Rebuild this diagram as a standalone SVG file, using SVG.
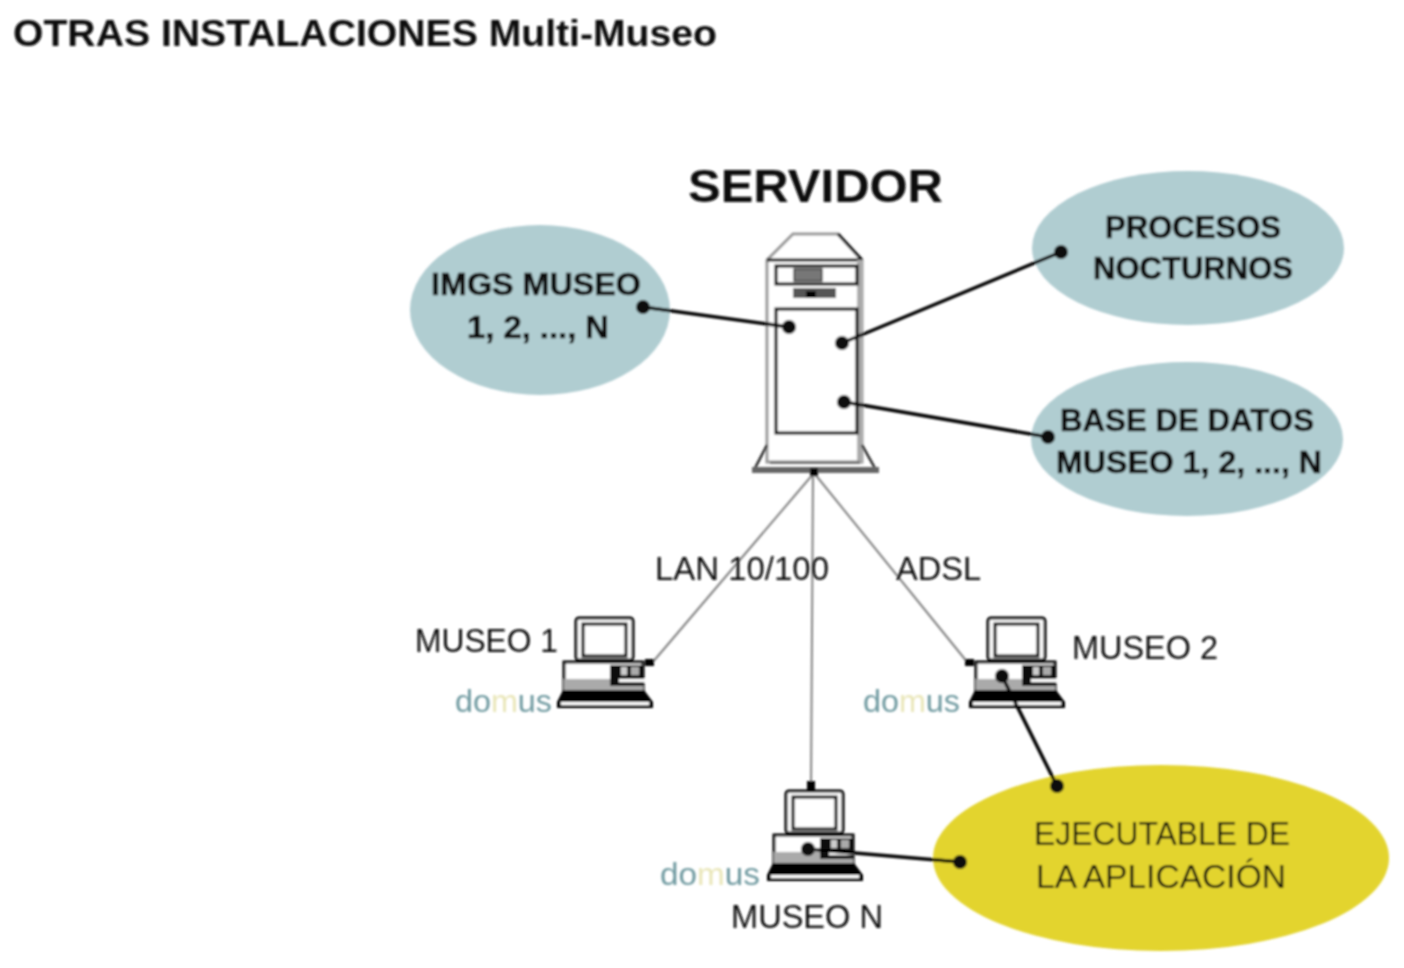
<svg xmlns="http://www.w3.org/2000/svg" xmlns:xlink="http://www.w3.org/1999/xlink" width="1404" height="968" viewBox="0 0 1404 968">
<style>
text{font-family:"Liberation Sans",Arial,sans-serif;fill:#111}
.b{font-weight:bold}
.l{font-size:33px;fill:#111}
.e{font-size:32px;font-weight:bold;fill:#111;stroke:#111;stroke-width:.6}
.teal{fill:#b0cdd1}
.yel{fill:#e3d42f}
.thin{stroke:#808080;stroke-width:2;fill:none}
.thick{stroke:#000;stroke-width:3.5;fill:none}
.dot{fill:#111}
text.dom{font-size:31px;fill:#6f9aa0}
text.dom tspan.m{fill:#e9e6b8}
</style>
<defs>
<filter id="soft" x="-2%" y="-2%" width="104%" height="104%"><feGaussianBlur stdDeviation="0.9"/></filter>
<g id="pc">
<rect x="1" y="1" width="57" height="42" rx="3" fill="#fff" stroke="#000" stroke-width="3"/>
<rect x="8" y="7" width="43" height="32" fill="#fff" stroke="#000" stroke-width="3"/>
<rect x="-11" y="45" width="79" height="28" fill="#fff" stroke="#000" stroke-width="3"/>
<rect x="-11" y="62" width="79" height="11" fill="#aaa"/>
<rect x="35" y="48" width="34" height="21" fill="#111"/>
<rect x="46" y="50" width="6" height="8" fill="#ccc"/>
<rect x="56" y="50" width="8" height="8" fill="#aaa"/>
<rect x="44" y="62" width="26" height="3" fill="#fff"/>
<path d="M-12 73H69L78 85V91H-18V85Z" fill="#000"/>
<rect x="-14" y="85" width="88" height="3" fill="#fff"/>
</g>
</defs>
<rect width="1404" height="968" fill="#fff"/>
<g filter="url(#soft)">
<text id="title" class="b" x="13" y="46" font-size="36" textLength="704" lengthAdjust="spacingAndGlyphs">OTRAS INSTALACIONES Multi-Museo</text>

<g id="node-imgs">
<ellipse class="teal" cx="540" cy="310" rx="130" ry="85"/>
<text class="e" x="431" y="295" textLength="210" lengthAdjust="spacingAndGlyphs">IMGS MUSEO</text>
<text class="e" x="467" y="338" textLength="142" lengthAdjust="spacingAndGlyphs">1, 2, ..., N</text>
</g>
<g id="node-procesos">
<ellipse class="teal" cx="1188" cy="248" rx="156" ry="77"/>
<text class="e" x="1105" y="238" textLength="176" lengthAdjust="spacingAndGlyphs">PROCESOS</text>
<text class="e" x="1093" y="279" textLength="200" lengthAdjust="spacingAndGlyphs">NOCTURNOS</text>
</g>
<g id="node-bd">
<ellipse class="teal" cx="1187" cy="439" rx="156" ry="77"/>
<text class="e" x="1060" y="431" textLength="254" lengthAdjust="spacingAndGlyphs">BASE DE DATOS</text>
<text class="e" x="1056" y="473" textLength="266" lengthAdjust="spacingAndGlyphs">MUSEO 1, 2, ..., N</text>
</g>
<g id="node-ejecutable">
<ellipse class="yel" cx="1161" cy="858" rx="228" ry="93"/>
<text class="l" x="1034" y="845" textLength="256" lengthAdjust="spacingAndGlyphs">EJECUTABLE  DE</text>
<text class="l" x="1036" y="888" textLength="250" lengthAdjust="spacingAndGlyphs">LA  APLICACIÓN</text>
</g>

<g id="node-servidor">
<text class="b" x="688" y="202" font-size="46" textLength="255" lengthAdjust="spacingAndGlyphs">SERVIDOR</text>
<path d="M767 260L793 234H838L862 260V462H767Z" fill="#fff" stroke="#999" stroke-width="3"/>
<path d="M838 234L862 260M767 260H862" stroke="#111" stroke-width="3" fill="none"/>
<rect x="857" y="260" width="6" height="202" fill="#aaa"/>
<rect x="776" y="266" width="81" height="18" fill="#fff" stroke="#000" stroke-width="3"/>
<rect x="794" y="269" width="28" height="12" fill="#777" stroke="#000"/>
<rect x="793" y="288" width="43" height="10" fill="#555"/>
<rect x="806" y="291" width="10" height="7" fill="#000"/>
<rect x="776" y="309" width="81" height="124" fill="#fff" stroke="#000" stroke-width="3"/>
<path d="M767 445L754 470M862 445L876 470" stroke="#222" stroke-width="2.5" fill="none"/>
<rect x="770" y="461" width="90" height="3" fill="#777"/>
<rect x="752" y="467" width="127" height="6" fill="#666"/>
</g>

<g id="node-museo1">
<use xlink:href="#pc" href="#pc" x="575" y="617"/>
<text class="l" x="415" y="652" textLength="143" lengthAdjust="spacingAndGlyphs">MUSEO  1</text>
<text class="dom" x="455" y="712" textLength="97" lengthAdjust="spacingAndGlyphs">do<tspan class="m">m</tspan>us</text>
</g>
<g id="node-museo2">
<use xlink:href="#pc" href="#pc" x="987" y="617"/>
<text class="l" x="1072" y="659" textLength="146" lengthAdjust="spacingAndGlyphs">MUSEO  2</text>
<text class="dom" x="863" y="712" textLength="97" lengthAdjust="spacingAndGlyphs">do<tspan class="m">m</tspan>us</text>
</g>
<g id="node-museon">
<use xlink:href="#pc" href="#pc" x="785" y="790"/>
<text class="l" x="731" y="928" textLength="152" lengthAdjust="spacingAndGlyphs">MUSEO  N</text>
<text class="dom" x="660" y="885" textLength="100" lengthAdjust="spacingAndGlyphs">do<tspan class="m">m</tspan>us</text>
</g>

<g id="connectors">
<path class="thin" d="M814 473L652 663M813 473L811 790M814 473L968 663"/>
<rect x="810" y="468" width="8" height="8" fill="#000"/>
<rect x="645" y="659" width="9" height="7" fill="#000"/>
<rect x="965" y="659" width="9" height="7" fill="#000"/>
<rect x="807" y="781" width="8" height="9" fill="#000"/>
<path class="thick" d="M643 307L789 327M842 343L1061 252M844 402L1048 437M1002 676L1057 786M808 849L960 862"/>
<circle class="dot" cx="643" cy="307" r="7"/>
<circle class="dot" cx="789" cy="327" r="7"/>
<circle class="dot" cx="842" cy="343" r="7"/>
<circle class="dot" cx="1061" cy="252" r="7"/>
<circle class="dot" cx="844" cy="402" r="7"/>
<circle class="dot" cx="1048" cy="437" r="7"/>
<circle class="dot" cx="1002" cy="676" r="7"/>
<circle class="dot" cx="1057" cy="786" r="7"/>
<circle class="dot" cx="808" cy="849" r="7"/>
<circle class="dot" cx="960" cy="862" r="7"/>
</g>
<text id="label-lan" class="l" x="655" y="580" textLength="174" lengthAdjust="spacingAndGlyphs">LAN 10/100</text>
<text id="label-adsl" class="l" x="896" y="580" textLength="85" lengthAdjust="spacingAndGlyphs">ADSL</text>
</g>
</svg>
